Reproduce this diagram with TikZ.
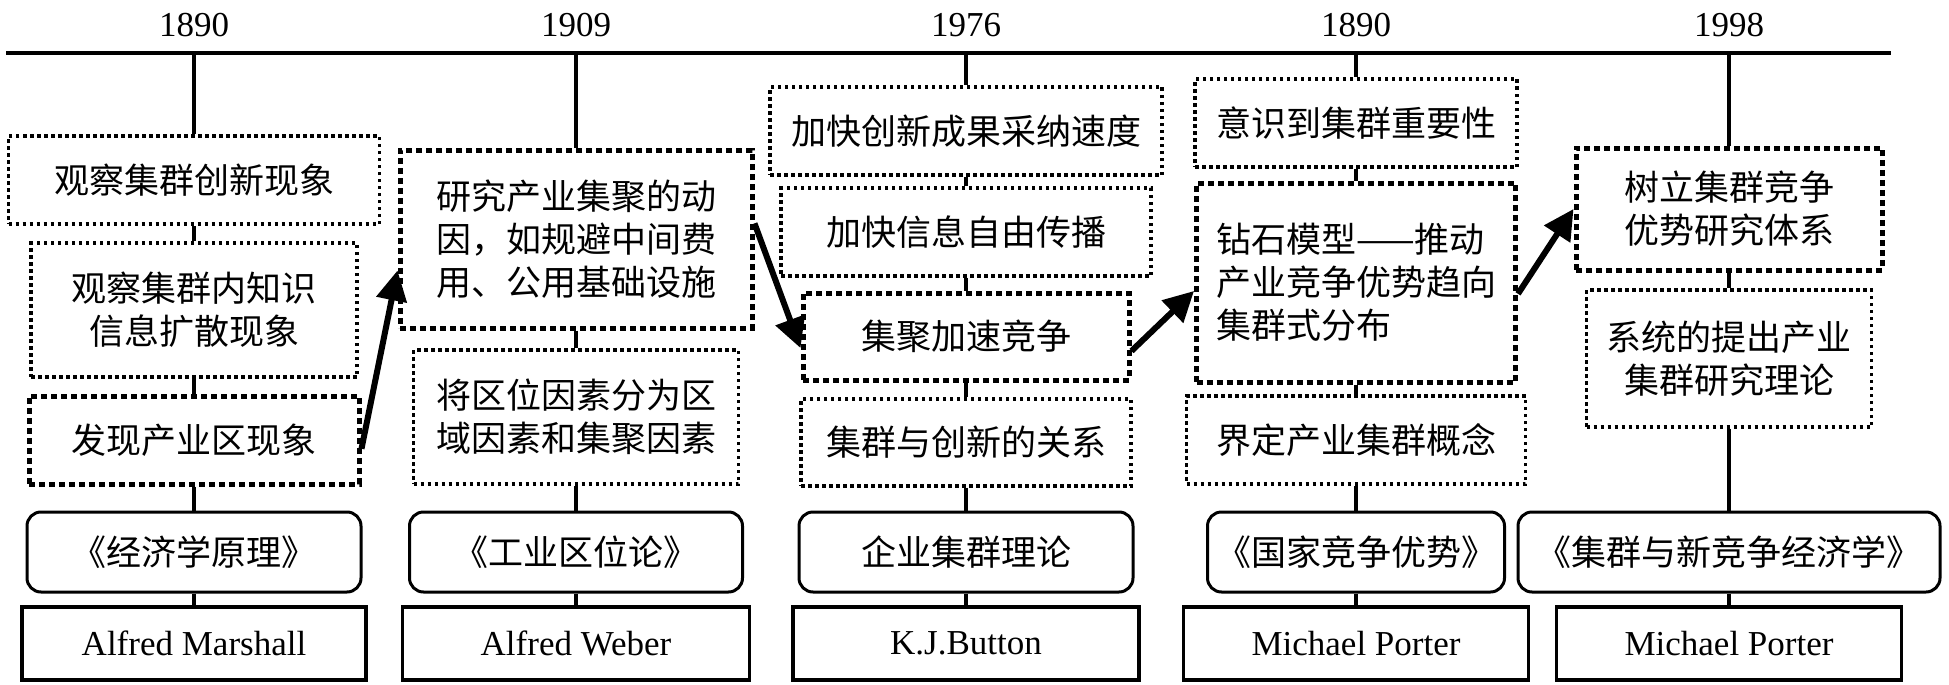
\documentclass[tikz,border=0pt]{standalone}
\usepackage{fontspec}
\setmainfont{Liberation Serif}
\newfontfamily\cjk{Noto Sans CJK SC}
\usetikzlibrary{arrows.meta}

\begin{document}
\begin{tikzpicture}[x=1pt, y=-1pt,
    txt/.style={font=\fontsize{35}{43}\selectfont\cjk, align=center, inner sep=0pt},
    dotbox/.style={txt, draw, line width=3.5pt, dash pattern=on 3.5pt off 3.5pt},
    thickbox/.style={txt, draw, line width=5pt, dash pattern=on 6pt off 4pt},
    bookbox/.style={txt, draw, line width=3pt, rounded corners=14pt, minimum height=80pt},
    namebox/.style={draw, line width=3.5pt, inner sep=0pt, minimum height=73pt, font=\fontsize{35}{42}\selectfont},
    year/.style={font=\fontsize{35}{42}\selectfont, inner sep=0pt},
    link/.style={line width=3.5pt},
    jump/.style={line width=6pt, -{Triangle[length=30pt, width=30pt]}}]
      \useasboundingbox (0, 0) rectangle (1949, 685);
      % time axis
      \coordinate (axl) at (6, 53);
      \coordinate (axr) at (1891, 53);
      \draw[link] (axl) -- (axr);
      \coordinate (t1) at (194, 53);
      \coordinate (t2) at (576, 53);
      \coordinate (t3) at (966, 53);
      \coordinate (t4) at (1356, 53);
      \coordinate (t5) at (1729, 53);
      \node[year] (y1) at (194, 25) {1890};
      \node[year] (y2) at (576, 25) {1909};
      \node[year] (y3) at (966, 25) {1976};
      \node[year] (y4) at (1356, 25) {1890};
      \node[year] (y5) at (1729, 25) {1998};

      % Marshall
      \node[dotbox, minimum width=371pt, minimum height=88pt] (a1) at (194, 180) {观察集群创新现象};
      \node[dotbox, minimum width=326pt, minimum height=134pt] (a2) at (194, 310) {观察集群内知识\\信息扩散现象};
      \node[thickbox, minimum width=330pt, minimum height=88pt] (a3) at (194, 440) {发现产业区现象};
      \node[bookbox, minimum width=334pt] (a4) at (194, 552) {《经济学原理》};
      \node[namebox, minimum width=344pt] (a5) at (194, 643.5) {Alfred Marshall};

      % Weber
      \node[thickbox, minimum width=352pt, minimum height=178pt] (b1) at (576, 239) {研究产业集聚的动\\因，如规避中间费\\用、公用基础设施};
      \node[dotbox, minimum width=325pt, minimum height=134pt] (b2) at (576, 417) {将区位因素分为区\\域因素和集聚因素};
      \node[bookbox, minimum width=333pt] (b3) at (576, 552) {《工业区位论》};
      \node[namebox, minimum width=347pt] (b4) at (576, 643.5) {Alfred Weber};

      % Button
      \node[dotbox, minimum width=392pt, minimum height=88pt] (c1) at (966, 131) {加快创新成果采纳速度};
      \node[dotbox, minimum width=370pt, minimum height=88pt] (c2) at (966, 232) {加快信息自由传播};
      \node[thickbox, minimum width=326pt, minimum height=87pt] (c3) at (966, 336.5) {集聚加速竞争};
      \node[dotbox, minimum width=330pt, minimum height=87pt] (c4) at (966, 442.5) {集群与创新的关系};
      \node[bookbox, minimum width=334pt] (c5) at (966, 552) {企业集群理论};
      \node[namebox, minimum width=346pt] (c6) at (966, 643.5) {K.J.Button};

      % Porter 1890
      \node[dotbox, minimum width=322pt, minimum height=88pt] (d1) at (1356, 123) {意识到集群重要性};
      \node[thickbox, minimum width=319pt, minimum height=199pt, align=left] (d2) at (1356, 282.5) {钻石模型——推动\\产业竞争优势趋向\\集群式分布};
      \node[dotbox, minimum width=339pt, minimum height=88pt] (d3) at (1356, 440) {界定产业集群概念};
      \node[bookbox, minimum width=297pt] (d4) at (1356, 552) {《国家竞争优势》};
      \node[namebox, minimum width=345pt] (d5) at (1356, 643.5) {Michael Porter};

      % Porter 1998
      \node[thickbox, minimum width=306pt, minimum height=122pt] (e1) at (1729, 209) {树立集群竞争\\优势研究体系};
      \node[dotbox, minimum width=285pt, minimum height=137pt] (e2) at (1729, 358.5) {系统的提出产业\\集群研究理论};
      \node[bookbox, minimum width=422pt] (e3) at (1729, 552) {《集群与新竞争经济学》};
      \node[namebox, minimum width=345pt] (e4) at (1729, 643.5) {Michael Porter};

      \draw[link] (t1) -- (a1) -- (a2) -- (a3) -- (a4) -- (a5)
                  (t2) -- (b1) -- (b2) -- (b3) -- (b4)
                  (t3) -- (c1) -- (c2) -- (c3) -- (c4) -- (c5) -- (c6)
                  (t4) -- (d1) -- (d2) -- (d3) -- (d4) -- (d5)
                  (t5) -- (e1) -- (e2) -- (e3) -- (e4);
      \draw[jump] (a3.357) -- (b1.190);
      \draw[jump] (b1.5) -- (c3.184);
      \draw[jump] (c3.355) -- (d2.183);
      \draw[jump] (d2.356) -- (e1.west);
\end{tikzpicture}
\end{document}
